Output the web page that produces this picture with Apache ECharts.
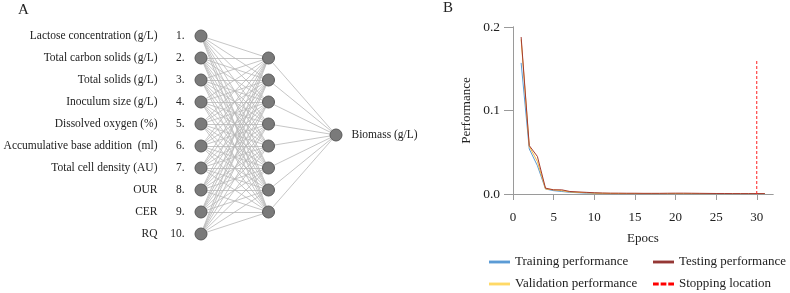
<!DOCTYPE html>
<html>
<head>
<meta charset="utf-8">
<script src="https://cdn.jsdelivr.net/npm/echarts@6/dist/echarts.min.js"></script>
<style>
  html, body { margin: 0; padding: 0; background: #fff; }
  #chart { width: 790px; height: 293px; }
</style>
</head>
<body>
<div id="chart"></div>
<script>
// panel A: network
const inputLabels = [
  'Lactose concentration (g/L)',
  'Total carbon solids (g/L)',
  'Total solids (g/L)',
  'Inoculum size (g/L)',
  'Dissolved oxygen (%)',
  'Accumulative base addition  (ml)',
  'Total cell density (AU)',
  'OUR',
  'CER',
  'RQ'
]
const hiddenLayerSize = 8
const outputLabel = 'Biomass (g/L)'

// panel B: performance per epoch
const epochs = [1, 2, 3, 4, 5, 6, 7, 8, 9, 10, 11, 12, 13, 14, 15, 16, 17, 18, 19, 20, 21, 22, 23, 24, 25, 26, 27, 28, 29, 30, 31]
const training = [0.157, 0.054, 0.034, 0.006, 0.004, 0.003, 0.002, 0.0015, 0.001, 0.0008, 0.0006, 0.0005, 0.0004, 0.0004, 0.0003, 0.0003, 0.0003, 0.0002, 0.0002, 0.0002, 0.0002, 0.0002, 0.0002, 0.0002, 0.0001, 0.0001, 0.0001, 0.0001, 0.0001, 0.0001, 0.0001]
const validation = [0.185, 0.057, 0.039, 0.006, 0.005, 0.004, 0.0025, 0.002, 0.0015, 0.001, 0.0008, 0.0007, 0.0006, 0.0005, 0.0005, 0.0005, 0.0004, 0.0004, 0.0004, 0.0004, 0.0004, 0.0004, 0.0003, 0.0003, 0.0003, 0.0003, 0.0003, 0.0003, 0.0003, 0.0003, 0.0003]
const testing = [0.188, 0.058, 0.045, 0.007, 0.005, 0.005, 0.003, 0.0025, 0.002, 0.0015, 0.0012, 0.001, 0.001, 0.0009, 0.0009, 0.0008, 0.0008, 0.0008, 0.0009, 0.001, 0.001, 0.0009, 0.0008, 0.0007, 0.0006, 0.0006, 0.0005, 0.0005, 0.0005, 0.0005, 0.0005]
const stopEpoch = 30
const stopHeight = [0, 0.16]
const xTicks = [0, 5, 10, 15, 20, 25, 30]

const serif = 'Liberation Serif'
const textColor = '#222'

// build network nodes / links
let nodes = []
let links = []
inputLabels.forEach((name, i) => {
  nodes.push({
    name: name,
    value: [0, i],
    label: {
      show: true,
      position: 'left',
      distance: 10,
      formatter: `{a|${name}}{b|${i + 1}.}`,
      rich: {
        a: { fontFamily: serif, fontSize: 11.5, color: textColor },
        b: { fontFamily: serif, fontSize: 11.5, color: textColor, width: 27, align: 'right' },
      },
    },
  })
})
for (let j = 0; j < hiddenLayerSize; j++) {
  nodes.push({ name: 'hidden' + j, value: [1, j + 1] })
  for (let i = 0; i < inputLabels.length; i++) {
    links.push({ source: i, target: inputLabels.length + j })
  }
}
const outIndex = nodes.length
nodes.push({
  name: outputLabel,
  value: [2, (hiddenLayerSize + 1) / 2],
  label: {
    show: true,
    position: 'right',
    distance: 9,
    fontFamily: serif,
    fontSize: 11.5,
    color: textColor,
  },
})
for (let j = 0; j < hiddenLayerSize; j++) {
  links.push({ source: inputLabels.length + j, target: outIndex })
}

const axisGray = '#9a9a9a'
const solidIcon = 'path://M0,0H22V3H0Z'
const dashIcon = 'path://M0,0H6V3H0Z M8,0H14V3H8Z M16,0H22V3H16Z'

const legendCommon = {
  orient: 'vertical',
  top: 255,
  height: 38,
  padding: 0,
  itemWidth: 21,
  itemHeight: 3,
  itemGap: 8,
  textStyle: { fontFamily: serif, fontSize: 13, color: textColor, lineHeight: 14 },
}

let option = {
  animation: false,
  backgroundColor: '#fff',
  textStyle: { fontFamily: serif },
  title: [
    { text: 'A', left: 18, top: 3, padding: 0, textStyle: { fontFamily: serif, fontSize: 15, fontWeight: 'normal', color: textColor } },
    { text: 'B', left: 443, top: 1, padding: 0, textStyle: { fontFamily: serif, fontSize: 15, fontWeight: 'normal', color: textColor } },
  ],
  legend: [
    {
      ...legendCommon,
      left: 489,
      data: [
        { name: 'Training performance', icon: solidIcon },
        { name: 'Validation performance', icon: solidIcon },
      ],
    },
    {
      ...legendCommon,
      left: 653,
      data: [
        { name: 'Testing performance', icon: solidIcon },
        { name: 'Stopping location', icon: dashIcon },
      ],
    },
  ],
  grid: [
    { left: 513, top: 27, width: 260, height: 167 },
    { left: 201, top: 36, width: 135, height: 198 },
  ],
  xAxis: [
    {
      gridIndex: 0,
      type: 'value',
      min: 0,
      max: 32,
      offset: 2,
      name: 'Epocs',
      nameLocation: 'middle',
      nameGap: 36,
      nameTextStyle: { fontFamily: serif, fontSize: 13, color: textColor },
      axisLine: { show: true, lineStyle: { color: axisGray } },
      axisTick: { show: true, length: 6, customValues: xTicks, lineStyle: { color: axisGray } },
      axisLabel: { customValues: xTicks, margin: 15, fontFamily: serif, fontSize: 13, color: textColor },
      splitLine: { show: false },
    },
    {
      gridIndex: 0,
      type: 'value',
      position: 'top',
      min: 0,
      max: 32,
      axisLine: { show: true, lineStyle: { color: axisGray } },
      axisTick: { show: false },
      axisLabel: { show: false },
      splitLine: { show: false },
    },
    { gridIndex: 1, type: 'value', min: 0, max: 2, show: false },
  ],
  yAxis: [
    {
      gridIndex: 0,
      type: 'value',
      min: 0,
      max: 0.2,
      interval: 0.1,
      name: 'Performance',
      nameLocation: 'middle',
      nameGap: 40,
      nameTextStyle: { fontFamily: serif, fontSize: 13, color: textColor },
      axisLine: { show: true, lineStyle: { color: axisGray } },
      axisTick: { show: true, length: 9, lineStyle: { color: axisGray } },
      axisLabel: { margin: 13, fontFamily: serif, fontSize: 13.5, color: textColor, formatter: (v) => v.toFixed(1) },
      splitLine: { show: false },
    },
    {
      gridIndex: 0,
      type: 'value',
      position: 'right',
      min: 0,
      max: 0.2,
      axisLine: { show: true, lineStyle: { color: axisGray } },
      axisTick: { show: false },
      axisLabel: { show: false },
      splitLine: { show: false },
    },
    { gridIndex: 1, type: 'value', min: 0, max: 9, inverse: true, show: false },
  ],
  series: [
    {
      type: 'graph',
      layout: 'none',
      coordinateSystem: 'cartesian2d',
      xAxisIndex: 2,
      yAxisIndex: 2,
      symbolSize: 12,
      itemStyle: { color: '#7a7a7a', borderColor: '#5a5a5a', borderWidth: 1 },
      lineStyle: { color: '#b8b8b8', width: 0.8, opacity: 1, curveness: 0 },
      emphasis: { disabled: true },
      data: nodes,
      links: links,
    },
    {
      name: 'Training performance',
      type: 'line',
      xAxisIndex: 0,
      yAxisIndex: 0,
      data: epochs.map((e, i) => [e, training[i]]),
      symbol: 'none',
      lineStyle: { color: '#5b9bd5', width: 1 },
      itemStyle: { color: '#5b9bd5' },
    },
    {
      name: 'Validation performance',
      type: 'line',
      xAxisIndex: 0,
      yAxisIndex: 0,
      data: epochs.map((e, i) => [e, validation[i]]),
      symbol: 'none',
      lineStyle: { color: '#f4b942', width: 1 },
      itemStyle: { color: '#ffd966' },
    },
    {
      name: 'Testing performance',
      type: 'line',
      xAxisIndex: 0,
      yAxisIndex: 0,
      data: epochs.map((e, i) => [e, testing[i]]),
      symbol: 'none',
      lineStyle: { color: '#a33b32', width: 1 },
      itemStyle: { color: '#953735' },
    },
    {
      name: 'Stopping location',
      type: 'line',
      xAxisIndex: 0,
      yAxisIndex: 0,
      data: stopHeight.map((v) => [stopEpoch, v]),
      symbol: 'none',
      lineStyle: { color: '#ff2020', width: 1, type: [3, 2] },
      itemStyle: { color: '#ff0000' },
    },
  ],
}

const chart = echarts.init(document.getElementById('chart'))
chart.setOption(option)
</script>
</body>
</html>
